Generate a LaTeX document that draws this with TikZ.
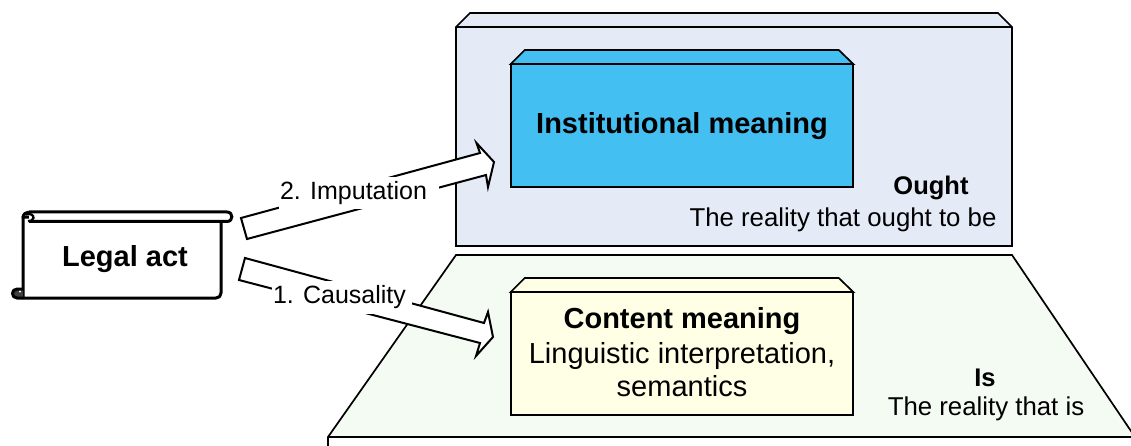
\documentclass[tikz,border=0pt]{standalone}
\usepackage{fontspec}
\setmainfont{Liberation Sans}
\definecolor{oughtbg}{HTML}{E4EBF7}
\definecolor{isbg}{HTML}{F3FBF2}
\definecolor{instblue}{HTML}{43BFF2}
\definecolor{contentyellow}{HTML}{FFFFE6}
\newcommand{\boldsz}{\fontsize{29}{35}\selectfont\bfseries}
\newcommand{\regsz}{\fontsize{25.8}{33}\selectfont}
\tikzset{
  edge/.style={draw=black,line width=1.7pt,line join=miter},
  box/.style={draw=black,line width=2pt,inner sep=0pt,outer sep=0pt,align=center},
  arrowbody/.style={draw=black,line width=2pt,fill=white,line join=miter},
  arrowlabel/.style={fill=white,inner ysep=0pt,inner xsep=1pt,font=\fontsize{25}{33}\selectfont},
  plain/.style={inner sep=0pt,align=center},
  scrollline/.style={draw=black,line width=3pt,line join=round}
}
\begin{document}
\begin{tikzpicture}[x=1pt,y=-1pt]
\useasboundingbox (0,0) rectangle (1131,446);
\begin{scope}
\clip (0,0) rectangle (1131,446);
% Ought plane
\draw[edge,fill=oughtbg] (456,27) -- (470,13) -- (998,13) -- (1012,27) -- (1012,246) -- (456,246) -- cycle;
\draw[edge] (456,27) -- (1012,27);
% Is plane
\fill[isbg] (328,437) -- (456,255) -- (1012,255) -- (1135,437) -- cycle;
\draw[edge] (328,446) -- (328,437) -- (456,255) -- (1012,255) -- (1135,437);
\draw[edge,line width=2.2pt] (328,437) -- (1135,437);
\end{scope}
% Boxes
\node[box,fill=instblue,minimum width=342.5pt,minimum height=123pt] (inst) at (682,125.5) {};
\draw[edge,fill=instblue] (inst.north west) -- ++(14,-14) -- ++(314,0) -- (inst.north east) -- cycle;
\node[plain,font=\boldsz] (insttext) at (682,126) {Institutional meaning};
\node[box,fill=contentyellow,minimum width=342.5pt,minimum height=123pt] (content) at (682,353.5) {};
\draw[edge,fill=contentyellow] (content.north west) -- ++(14,-14) -- ++(314,0) -- (content.north east) -- cycle;
\node[plain,font=\boldsz] (contenttitle) at (682,321) {Content meaning};
\node[plain,font=\fontsize{29}{33}\selectfont] (contenttext) at (682,370) {Linguistic interpretation,\\semantics};
% Plane labels
\node[plain,font=\fontsize{25.5}{30}\selectfont\bfseries] (ought) at (931,188) {Ought};
\node[plain,font=\regsz] (oughttext) at (843,219.5) {The reality that ought to be};
\node[plain,font=\fontsize{25.5}{30}\selectfont\bfseries] (is) at (985,378) {Is};
\node[plain,font=\regsz] (istext) at (986,408.5) {The reality that is};
% Scroll
\draw[scrollline,fill=white]
  (23,217) -- (23,298) -- (216,298) .. controls (219,298) and (221,296) .. (221,293) -- (221,221) -- cycle;
\draw[scrollline,fill=white]
  (29,212) -- (227,212) .. controls (233.5,212) and (233.5,221.5) .. (227,221.5) -- (29,221.5);
\draw[scrollline] (23,218) .. controls (23,214) and (26,212) .. (29,212);
\draw[line width=2.3pt] (26,214.5) .. controls (30,213) and (34,215) .. (33.5,218) .. controls (33,221) and (30,221.5) .. (28,221);
\draw[scrollline,fill=black!75] (23,298) -- (17,298) .. controls (11,298) and (11,289) .. (17,289) -- (23,289);
\fill[white] (20,291.5) circle[radius=1.2];
\node[plain,font=\boldsz] (legal) at (125,259) {Legal act};
% Block arrows
\coordinate (impTailA) at (241,218);
\coordinate (impTailB) at (247,239);
\coordinate (impHeadTip) at (494,162);
\draw[arrowbody] (impTailA) -- (480,153) -- (476.5,143) -- (impHeadTip) -- (488,187) -- (486,175) -- (impTailB) -- cycle;
\coordinate (cauTailA) at (245,258);
\coordinate (cauTailB) at (239,280);
\coordinate (cauHeadTip) at (493,337);
\draw[arrowbody] (cauTailA) -- (484,323) -- (488,312) -- (cauHeadTip) -- (476,356) -- (480,343) -- (cauTailB) -- cycle;
\node[arrowlabel,minimum height=32pt] (imputation) at (359,193.5) {2. Imputation\rule{11pt}{0pt}};
\node[arrowlabel,minimum height=33pt] (causality) at (342,297) {1. Causality\rule{5pt}{0pt}};
\end{tikzpicture}
\end{document}
